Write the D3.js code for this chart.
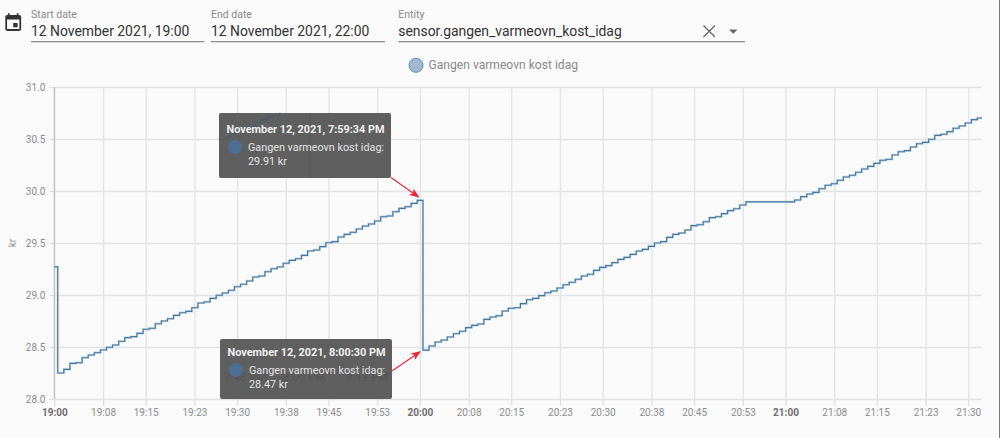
<!DOCTYPE html>
<html lang="en">
<head>
    <meta charset="UTF-8">
    <title>Gangen varmeovn kost idag</title>
    <style>
        html, body {
            margin: 0;
            padding: 0;
            background: #fafafa;
            overflow: hidden;
        }

        svg {
            display: block;
            font-family: Roboto, sans-serif;
        }

        .grid line {
            stroke: #e3e3e3;
            stroke-width: 1.3;
        }

        .grid path, .axis path {
            display: none;
        }

        .axis line {
            stroke: #dedede;
            stroke-width: 1.2;
        }

        .axis text {
            font-family: Roboto, sans-serif;
            font-size: 10px;
            fill: #8c8c8c;
        }

        .axis text.major {
            font-weight: 700;
            fill: #6e6e6e;
        }

        .field-label {
            font-size: 10.5px;
            fill: #8a8a8a;
        }

        .field-value {
            font-size: 13.9px;
            fill: #333;
        }

        .tip-title {
            font-size: 10.9px;
            font-weight: 700;
            fill: #f0f0f0;
        }

        .tip-body {
            font-size: 10.8px;
            fill: #e4e4e4;
        }
    </style>
</head>
<body>
<svg id="chart" width="1000" height="438"></svg>

<script src="https://cdnjs.cloudflare.com/ajax/libs/d3/7.8.5/d3.min.js"></script>
<script>
    // values
    const seriesName = "Gangen varmeovn kost idag";
    const yTicks = [28.0, 28.5, 29.0, 29.5, 30.0, 30.5, 31.0];
    const xTickLabels = ["19:00", "19:08", "19:15", "19:23", "19:30", "19:38", "19:45", "19:53",
        "20:00", "20:08", "20:15", "20:23", "20:30", "20:38", "20:45", "20:53",
        "21:00", "21:08", "21:15", "21:23", "21:30"];
    const majorLabels = ["19:00", "20:00", "21:00"];

    const openingTime = "19:00:00";
    const openingValue = 29.27;

    // one reading a minute from 19:00:34
    const firstRunStart = "19:00:34";
    const firstRunValues = [28.25, 28.285, 28.343, 28.349, 28.397, 28.423, 28.445, 28.471, 28.497, 28.519,
        28.555, 28.59, 28.6, 28.631, 28.67, 28.68, 28.724, 28.75, 28.772, 28.804,
        28.83, 28.843, 28.878, 28.923, 28.933, 28.968, 28.997, 29.019, 29.045, 29.08,
        29.103, 29.135, 29.173, 29.183, 29.224, 29.253, 29.269, 29.305, 29.333, 29.349,
        29.381, 29.423, 29.433, 29.465, 29.503, 29.513, 29.558, 29.583, 29.603, 29.635,
        29.663, 29.683, 29.712, 29.753, 29.76, 29.801, 29.833, 29.849, 29.881, 29.91];

    // one reading a minute from 20:00:30
    const secondRunStart = "20:00:30";
    const secondRunValues = [28.47, 28.51, 28.548, 28.567, 28.596, 28.628, 28.651, 28.686, 28.708, 28.721,
        28.766, 28.788, 28.801, 28.846, 28.872, 28.878, 28.917, 28.955, 28.968, 28.994,
        29.022, 29.038, 29.067, 29.099, 29.122, 29.151, 29.183, 29.199, 29.237, 29.266,
        29.282, 29.311, 29.343, 29.362, 29.391, 29.423, 29.439, 29.468, 29.5, 29.513,
        29.554, 29.583, 29.596, 29.625, 29.667, 29.676, 29.705, 29.744, 29.753, 29.782,
        29.811, 29.83, 29.865, 29.895, 29.895, 29.895, 29.895, 29.895, 29.895, 29.895,
        29.895, 29.913, 29.946, 29.971, 29.987, 30.022, 30.055, 30.07, 30.103, 30.135,
        30.151, 30.18, 30.212, 30.237, 30.266, 30.295, 30.305, 30.346, 30.378, 30.388,
        30.423, 30.455, 30.468, 30.497, 30.535, 30.545, 30.571, 30.603, 30.625, 30.654,
        30.686, 30.702];

    // the faint stair showing through the upper tooltip
    const ghostStart = "19:27:00";
    const ghostValues = [30.497, 30.516, 30.554, 30.574, 30.603, 30.625, 30.657, 30.683, 30.714, 30.733, 30.752];
    const ghostTickLabels = ["7:48 PM", "8:00 PM", "8:12 PM"];

    const chartEnd = "21:32:15";

    function parseTime(text) {
        const p = text.split(":").map(Number);
        return new Date(Date.UTC(2021, 10, 12, p[0], p[1], p[2] || 0));
    }

    function minuteRun(start, values) {
        const t0 = parseTime(start);
        return values.map((v, i) => ({time: d3.utcMinute.offset(t0, i), value: v}));
    }

    const svg = d3.select("#chart");

    const x = d3.scaleUtc().domain([parseTime("19:00"), parseTime(chartEnd)]).range([54.3, 982]);
    const y = d3.scaleLinear().domain([28, 31]).range([399, 87]);

    const xTicks = xTickLabels.map(parseTime);
    const xFormat = d3.utcFormat("%H:%M");

    // header fields
    function field(left, right, label, value) {
        svg.append("text").attr("class", "field-label").attr("x", left).attr("y", 17.5).text(label);
        svg.append("text").attr("class", "field-value").attr("x", left).attr("y", 36).text(value);
        svg.append("line").attr("x1", left).attr("x2", right).attr("y1", 41.7).attr("y2", 41.7)
            .attr("stroke", "#8c8c8c").attr("stroke-width", 1.2);
    }

    field(31, 204, "Start date", "12 November 2021, 19:00");
    field(211, 385, "End date", "12 November 2021, 22:00");
    field(398.3, 745, "Entity", "sensor.gangen_varmeovn_kost_idag");

    svg.append("path")
        .attr("transform", "translate(2.66,12.4) scale(0.88)")
        .attr("fill", "#333")
        .attr("d", "M17 12h-5v5h5v-5zM16 1v2H8V1H6v2H5c-1.11 0-1.99.9-1.99 2L3 19c0 1.1.89 2 2 2h14c1.1 0 2-.9 2-2V5c0-1.1-.9-2-2-2h-1V1h-2zm3 18H5V8h14v11z");

    svg.append("path")
        .attr("d", "M703.5 25.5L715 37M715 25.5L703.5 37")
        .attr("stroke", "#666").attr("stroke-width", 1.3).attr("fill", "none");
    svg.append("path").attr("d", "M729 29.5h8.5l-4.25 4.2z").attr("fill", "#666");

    // legend
    svg.append("circle").attr("cx", 416).attr("cy", 65.3).attr("r", 7)
        .attr("fill", "#a1bad2").attr("stroke", "#5f8fb8").attr("stroke-width", 1);
    svg.append("text").attr("x", 428.5).attr("y", 69.3)
        .attr("font-size", 12.1).attr("fill", "#8a8a8a").text(seriesName);

    // grid
    svg.append("g").attr("class", "grid")
        .attr("transform", `translate(0,${y(28)})`)
        .call(d3.axisBottom(x).tickValues(xTicks).tickSize(-(y(28) - y(31))).tickFormat(""));
    svg.append("g").attr("class", "grid")
        .attr("transform", `translate(${x.range()[0]},0)`)
        .call(d3.axisLeft(y).tickValues(yTicks).tickSize(-(x.range()[1] - x.range()[0])).tickFormat(""));

    // axes
    const xAxis = svg.append("g").attr("class", "axis")
        .attr("transform", `translate(0,${y(28)})`)
        .call(d3.axisBottom(x).tickValues(xTicks).tickSize(7).tickPadding(3).tickFormat(xFormat));
    xAxis.selectAll("text").classed("major", d => majorLabels.includes(xFormat(d)));

    svg.append("g").attr("class", "axis")
        .attr("transform", `translate(${x.range()[0]},0)`)
        .call(d3.axisLeft(y).tickValues(yTicks).tickSize(5).tickPadding(4).tickFormat(d3.format(".1f")));

    svg.append("line")
        .attr("x1", x.range()[0]).attr("x2", x.range()[0])
        .attr("y1", y(31)).attr("y2", y(28))
        .attr("stroke", "#bdbdbd").attr("stroke-width", 1.2);

    svg.append("text")
        .attr("transform", "translate(16,243) rotate(-90)")
        .attr("text-anchor", "middle")
        .attr("font-size", 10)
        .attr("fill", "#8c8c8c")
        .text("kr");

    // series
    const points = [{time: parseTime(openingTime), value: openingValue}]
        .concat(minuteRun(firstRunStart, firstRunValues))
        .concat(minuteRun(secondRunStart, secondRunValues));
    points.push({time: parseTime(chartEnd), value: points[points.length - 1].value});

    const stepLine = d3.line()
        .x(d => x(d.time))
        .y(d => y(d.value))
        .curve(d3.curveStepAfter);

    svg.append("path").datum(points)
        .attr("fill", "none").attr("stroke", "#c3d5e4").attr("stroke-width", 2.2)
        .attr("d", stepLine);
    svg.append("path").datum(points)
        .attr("fill", "none").attr("stroke", "#44789f").attr("stroke-width", 1.1)
        .attr("d", stepLine);

    // tooltips, with what shows through them drawn between box and text
    function tooltip(box, title, value, drawBehind) {
        const g = svg.append("g");
        g.append("rect")
            .attr("x", box.x).attr("y", box.y)
            .attr("width", box.w).attr("height", box.h)
            .attr("rx", 2)
            .attr("fill", "#5f5f5f");
        drawBehind(g);
        g.append("text").attr("class", "tip-title")
            .attr("x", box.x + 7.5).attr("y", box.y + box.titleY).text(title);
        g.append("circle")
            .attr("cx", box.x + 16).attr("cy", box.y + box.rowY - 4).attr("r", 7)
            .attr("fill", "#4b7094");
        g.append("text").attr("class", "tip-body")
            .attr("x", box.x + 29).attr("y", box.y + box.rowY).text(seriesName + ":");
        g.append("text").attr("class", "tip-body")
            .attr("x", box.x + 29).attr("y", box.y + box.rowY + 14).text(value);
    }

    tooltip({x: 219, y: 113, w: 172, h: 65, titleY: 20, rowY: 38},
        "November 12, 2021, 7:59:34 PM", "29.91 kr", g => {
            g.append("path").datum(minuteRun(ghostStart, ghostValues))
                .attr("fill", "none").attr("stroke", "#4f5a66").attr("stroke-width", 1.2)
                .attr("d", stepLine);
            g.append("line")
                .attr("x1", 310).attr("x2", 310).attr("y1", 113).attr("y2", 178)
                .attr("stroke", "#52575d").attr("stroke-width", 1.2);
        });

    tooltip({x: 220, y: 339, w: 172, h: 60, titleY: 16.5, rowY: 35},
        "November 12, 2021, 8:00:30 PM", "28.47 kr", g => {
            g.selectAll("text.ghost")
                .data(ghostTickLabels)
                .join("text")
                .attr("class", "ghost")
                .attr("x", (d, i) => [224, 283, 346][i])
                .attr("y", 381)
                .attr("font-size", 11.5)
                .attr("fill", "#555")
                .text(d => d);
        });

    // red arrows to the two readings
    svg.append("defs").append("marker")
        .attr("id", "arrow")
        .attr("viewBox", "0 0 10 10")
        .attr("refX", 9).attr("refY", 5)
        .attr("markerWidth", 9).attr("markerHeight", 9)
        .attr("orient", "auto")
        .append("path").attr("d", "M0 1L10 5L0 9L2.5 5z").attr("fill", "#ee2439");

    svg.append("line")
        .attr("x1", 391).attr("y1", 177.5).attr("x2", 418.5).attr("y2", 197)
        .attr("stroke", "#ee2439").attr("stroke-width", 1.1).attr("marker-end", "url(#arrow)");
    svg.append("line")
        .attr("x1", 392.3).attr("y1", 370.7).attr("x2", 420).attr("y2", 351.7)
        .attr("stroke", "#ee2439").attr("stroke-width", 1.1).attr("marker-end", "url(#arrow)");

    // screenshot edge
    svg.append("line")
        .attr("x1", 999.5).attr("x2", 999.5).attr("y1", 0).attr("y2", 438)
        .attr("stroke", "#777");
</script>
</body>
</html>
